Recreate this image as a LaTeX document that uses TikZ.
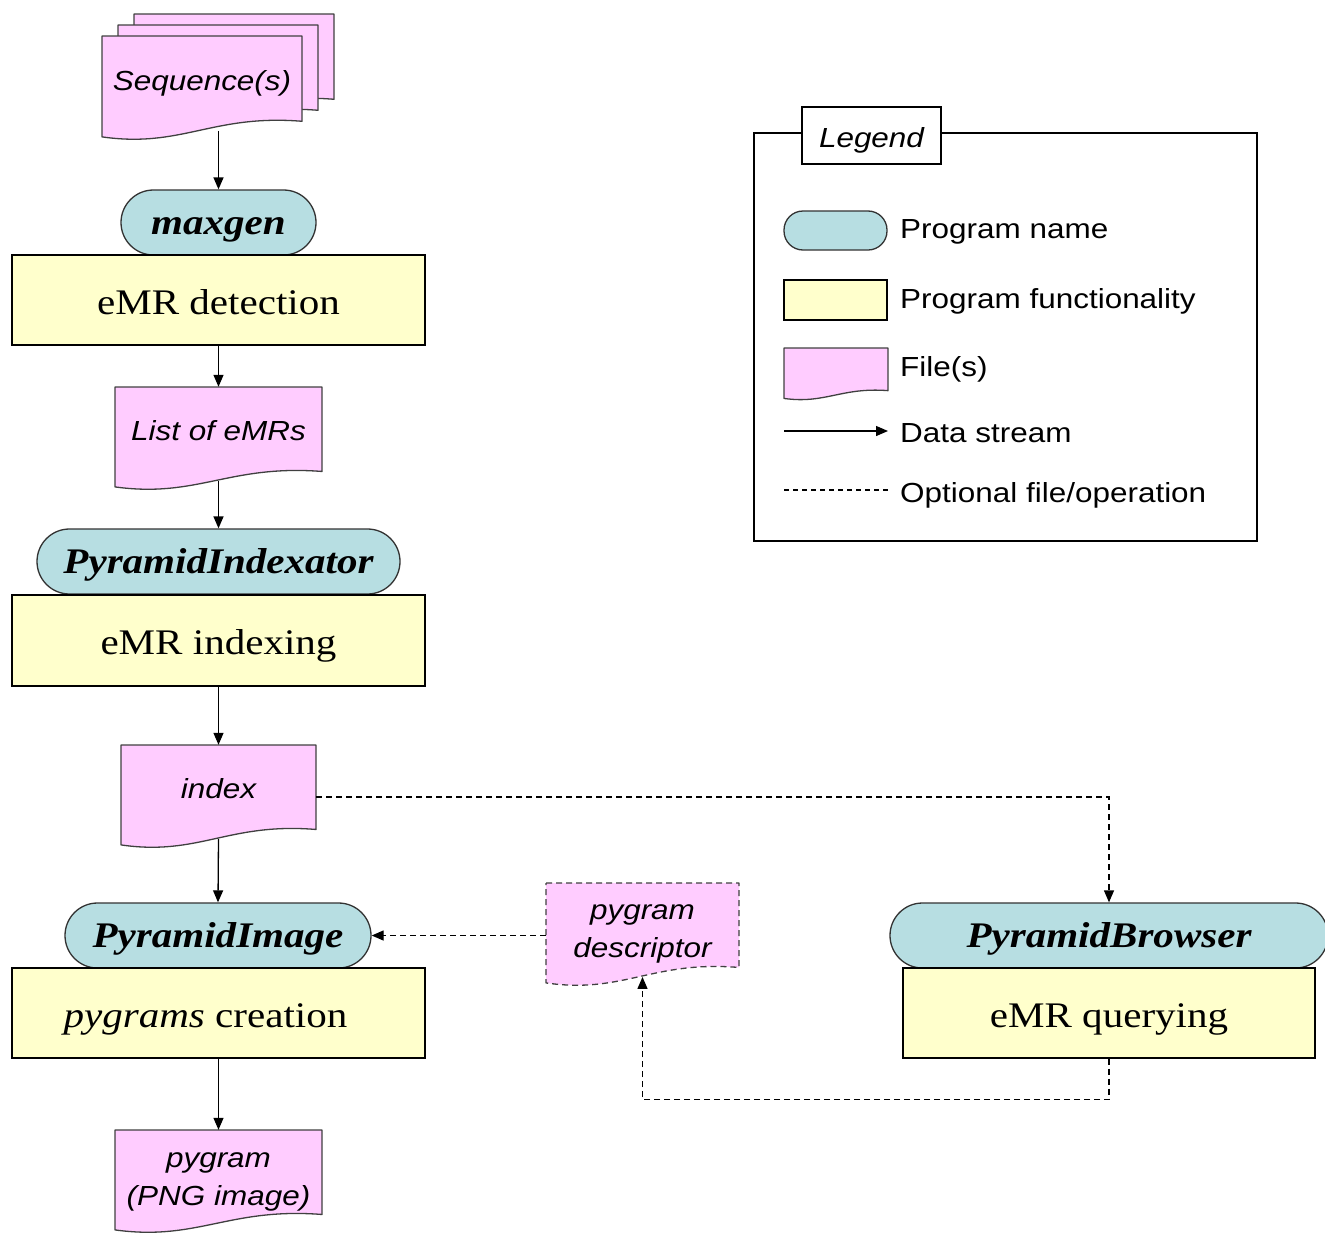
\documentclass[tikz,border=0pt]{standalone}
\usepackage{fontspec}
\setmainfont{Liberation Serif}[FakeStretch=1.14]
\setsansfont{Liberation Sans}[FakeStretch=1.14]
\usetikzlibrary{arrows.meta}
\definecolor{progfill}{RGB}{183,222,226}
\definecolor{funcfill}{RGB}{255,255,204}
\definecolor{filefill}{RGB}{255,204,255}
\newcommand\progfont{\fontsize{36}{40}\selectfont\bfseries\itshape}
\newcommand\funcfont{\fontsize{36}{40}\selectfont}
\newcommand\filefont{\sffamily\itshape\fontsize{27.6}{38}\selectfont}
\newcommand\legfont{\sffamily\fontsize{27.6}{38}\selectfont}
\newcommand\docpath[5][]{\draw[docline,#1] (#2,#3) -- (#4,#3) -- (#4,{#5-0.18*(#5-#3)}) .. controls ({#2+0.55*(#4-#2)},{#5-0.25*(#5-#3)}) and ({#2+0.4*(#4-#2)},{#5+0.08*(#5-#3)}) .. (#2,{#5-0.03*(#5-#3)}) -- cycle;}
\newcommand\docnode[8][]{\docpath[#1]{#3}{#4}{#5}{#6}\node[doctext,minimum width={(#5-#3)*1pt},minimum height={0.91*(#6-#4)*1pt},#7] (#2) at ({(#3+#5)/2},{#4+0.455*(#6-#4)}) {#8};}
\begin{document}
\begin{tikzpicture}[x=1pt,y=-1pt,
  docline/.style={draw=black!75, fill=filefill, line width=1.3pt, line join=round},
  doctext/.style={inner sep=0pt, align=center, font=\filefont},
  oneline/.style={text height=20pt, text depth=6pt},
  prog/.style={draw=black!80, fill=progfill, rounded corners=32.5pt, minimum height=65pt, inner sep=0pt, line width=1.3pt, font=\progfont, text height=30pt, text depth=7pt},
  func/.style={draw=black, fill=funcfill, minimum width=413pt, minimum height=90pt, inner sep=0pt, line width=1.3pt, font=\funcfont, text height=34pt, text depth=6pt},
  flow/.style={line width=1.3pt, -{Triangle[length=12pt,width=10pt]}},
  opt/.style={flow, dash pattern=on 6pt off 4pt},
  legtext/.style={anchor=base west, inner sep=0pt, font=\legfont}]
\useasboundingbox (0,0) rectangle (1325,1234);

% main flow
\docpath{134}{14}{334}{118}
\docpath{118}{25}{318}{129}
\docnode{seq}{102}{36}{302}{140}{oneline}{Sequence(s)}
\node[prog, minimum width=195pt] (maxgen) at (218.5,222.5) {maxgen};
\node[func] (detect) at (218.5,300) {eMR detection};
\docnode{emrs}{115}{387}{322}{490}{oneline}{List of eMRs}
\node[prog, minimum width=363pt] (pindex) at (218.5,561.5) {PyramidIndexator};
\node[func, minimum height=91pt] (indexing) at (218.5,640.5) {eMR indexing};
\docnode{index}{121}{745}{316}{848}{oneline}{index}
\node[prog, minimum width=306pt] (pimage) at (218,935.5) {PyramidImage};
\node[func] (creation) at (218.5,1013) {\textit{pygrams} creation\hspace*{26pt}};
\docnode{pygram}{115}{1130}{322}{1233}{}{\rule{0pt}{24pt}pygram\\(PNG image)}
\docnode[dash pattern=on 6pt off 4pt]{desc}{546}{883}{739}{986}{}{\rule{0pt}{22pt}pygram\\descriptor}
\node[prog, minimum width=438pt] (browser) at (1109,935.5) {PyramidBrowser};
\node[func, minimum width=412pt] (query) at (1109,1013) {eMR querying};

% connectors
\draw[flow] (seq.south -| maxgen.north) -- (maxgen.north);
\draw[flow] (detect.south) -- (emrs.north);
\draw[flow] (emrs.south) -- (pindex.north);
\draw[flow] (indexing.south) -- (index.north);
\draw[flow] (index.south) -- (pimage.north);
\draw[flow] (creation.south) -- (pygram.north);
\draw[opt] (desc.west |- pimage.east) -- (pimage.east);
\draw[opt] ([yshift=-5pt]index.east) -| (browser.north);
\draw[opt] (query.south) -- ++(0,41) -| (desc.south);

% legend
\node[draw, line width=1.3pt, minimum width=503pt, minimum height=408pt, inner sep=0pt] (legend) at (1005.5,337) {};
\node[draw, fill=white, line width=1.3pt, minimum width=139pt, minimum height=57pt, inner sep=0pt, font=\legfont\itshape, text height=29pt, text depth=6pt] (legtitle) at (871.5,135.5) {Legend};
\node[prog, minimum width=103pt, minimum height=39pt, rounded corners=19pt] (lprog) at (835.5,230.5) {};
\node[func, minimum width=103pt, minimum height=40pt] (lfunc) at (835.5,300) {};
\docnode{lfile}{784}{348}{888}{400}{}{}
\coordinate (ds1) at (784,431);
\coordinate (ds2) at (888,431);
\draw[flow] (ds1) -- (ds2);
\coordinate (op1) at (784,490);
\coordinate (op2) at (888,490);
\draw[line width=1.3pt, dash pattern=on 5pt off 4pt] (op1) -- (op2);
\node[legtext] (t1) at (900,238) {Program name};
\node[legtext] (t2) at (900,308) {Program functionality};
\node[legtext] (t3) at (900,376) {File(s)};
\node[legtext] (t4) at (900,442) {Data stream};
\node[legtext] (t5) at (900,502) {Optional file/operation};
\end{tikzpicture}
\end{document}
